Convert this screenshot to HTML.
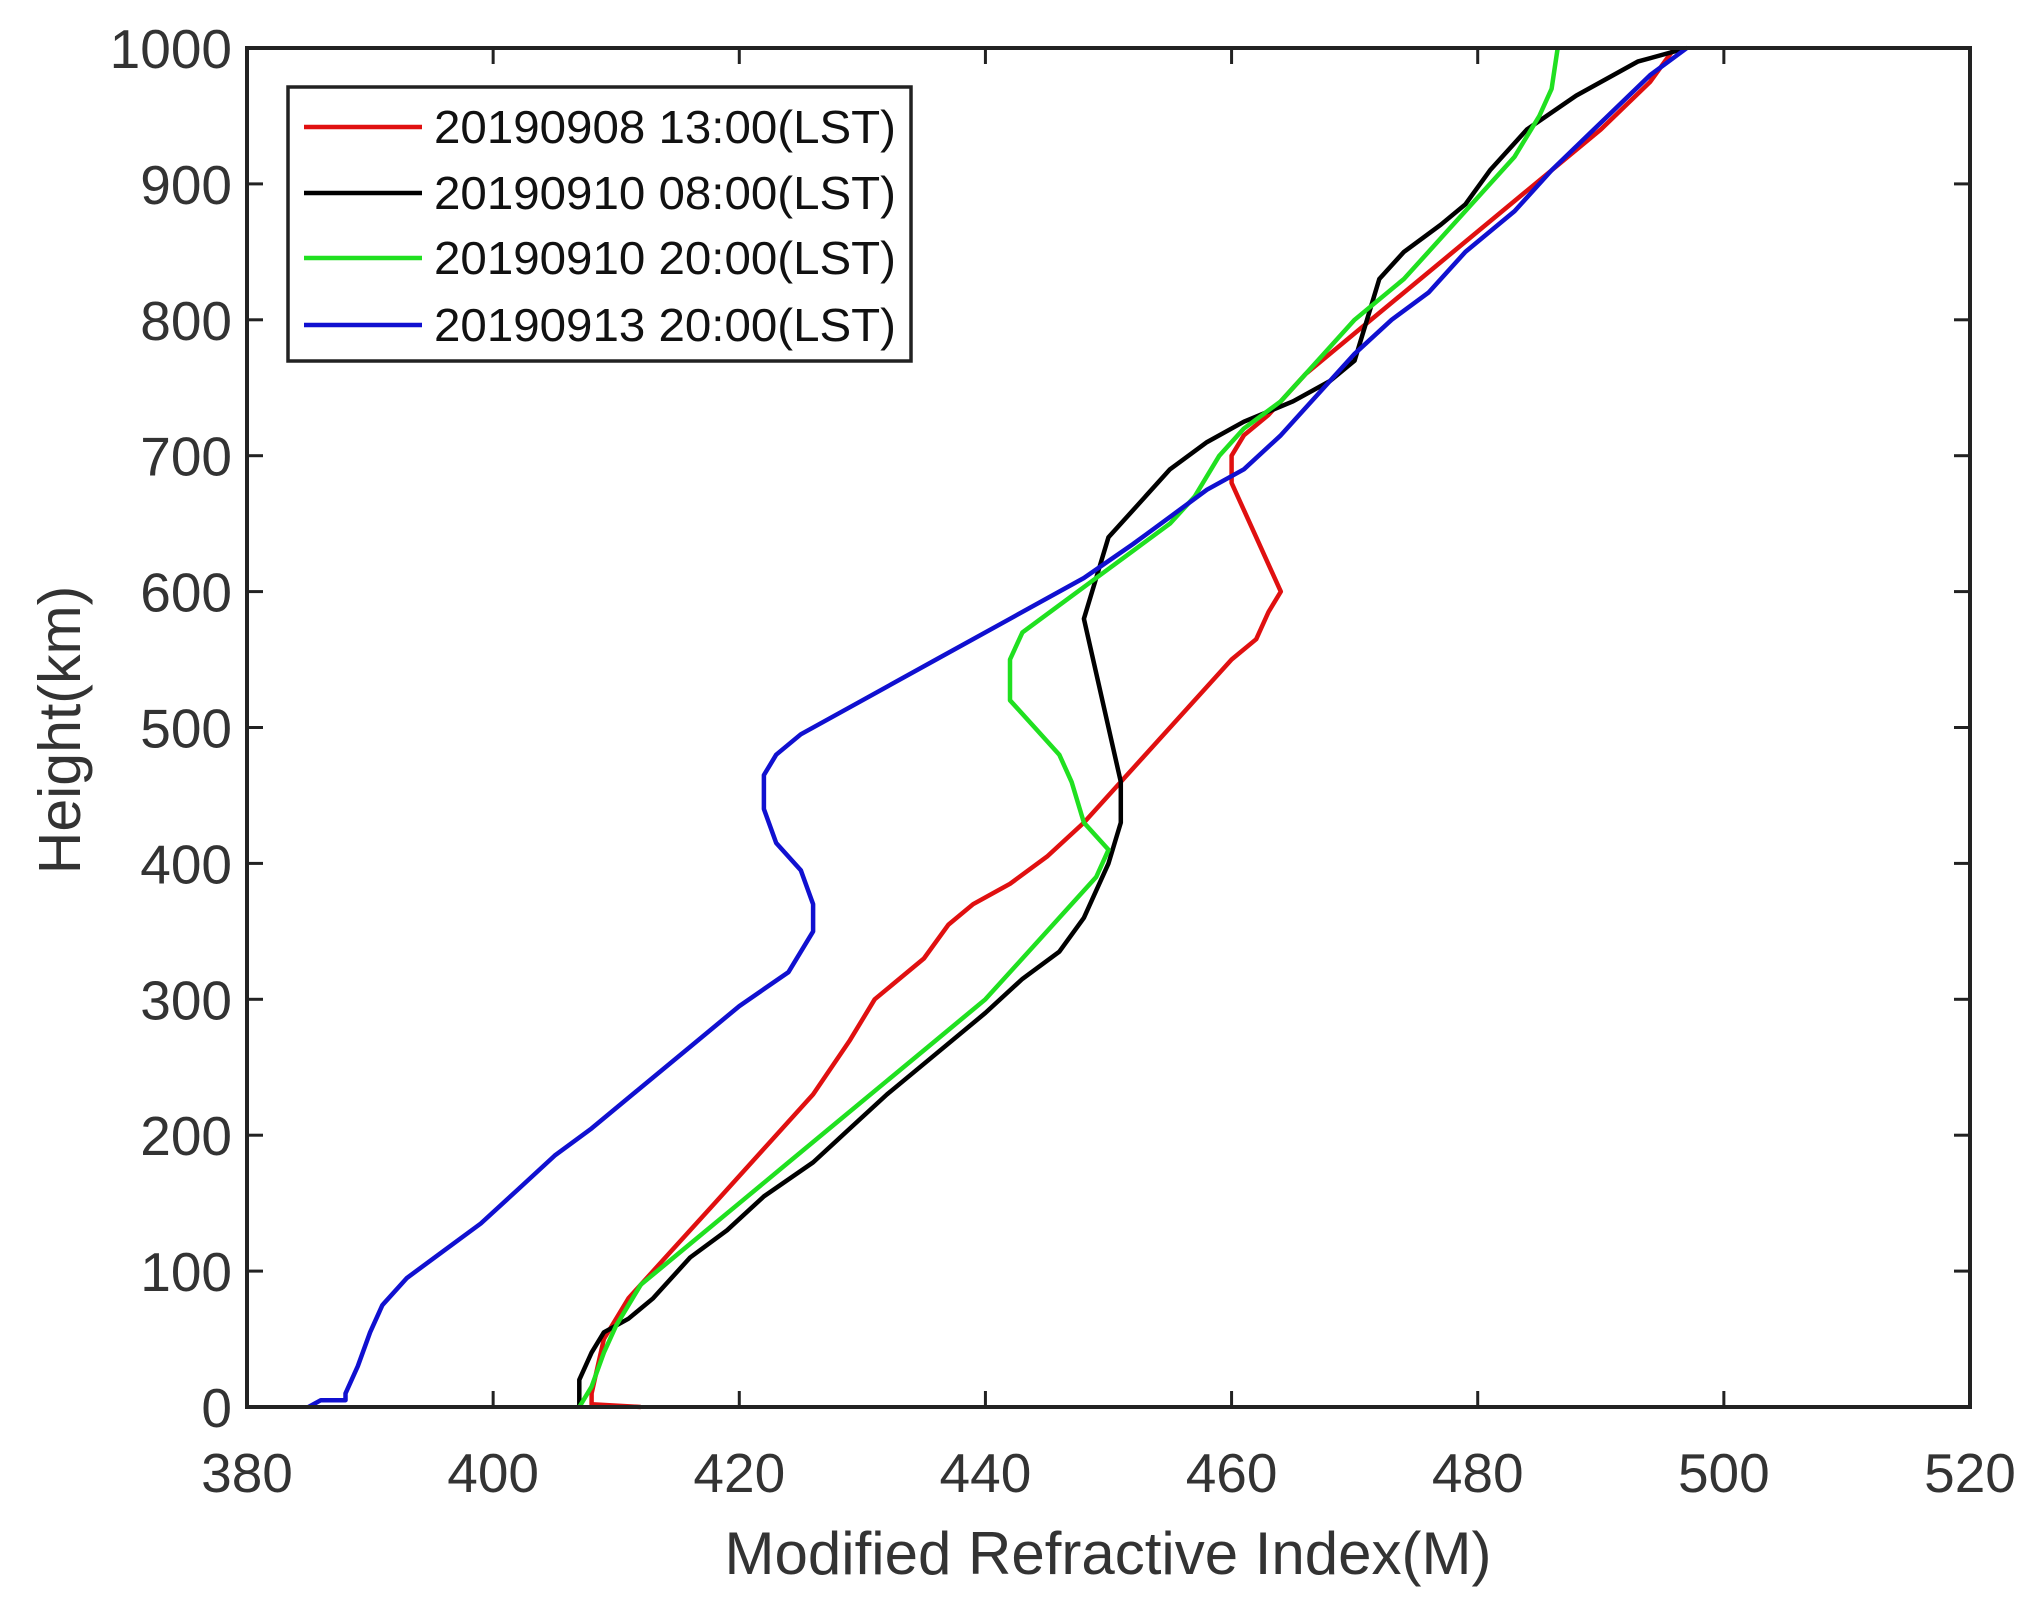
<!DOCTYPE html>
<html><head><meta charset="utf-8"><style>
html,body{margin:0;padding:0;background:#fff;}
svg{display:block;font-family:"Liberation Sans",sans-serif;}
</style></head><body>
<svg id="s" width="2033" height="1612" xmlns="http://www.w3.org/2000/svg">
<rect width="2033" height="1612" fill="#fff"/>
<g id="ticks" stroke="#222" stroke-width="3"></g>
<g id="lines" fill="none" stroke-width="4.5" stroke-linejoin="round"></g>
<rect x="247" y="48" width="1723" height="1359" fill="none" stroke="#222" stroke-width="4"/>
<g id="labels" font-size="55" fill="#333"></g>
<text x="1108" y="1574" font-size="60" fill="#333" text-anchor="middle">Modified Refractive Index(M)</text>
<text transform="translate(80,730) rotate(-90)" font-size="59" fill="#333" text-anchor="middle">Height(km)</text>
<rect x="288" y="87" width="623" height="274" fill="#fff" stroke="#222" stroke-width="3.5"/>
<g stroke-width="4.5">
<line x1="304" y1="127" x2="422" y2="127" stroke="#e01010"/>
<line x1="304" y1="193" x2="422" y2="193" stroke="#000"/>
<line x1="304" y1="258" x2="422" y2="258" stroke="#20e020"/>
<line x1="304" y1="325" x2="422" y2="325" stroke="#1010d0"/>
</g>
<g font-size="46" fill="#111">
<text x="434" y="143" textLength="462" lengthAdjust="spacingAndGlyphs">20190908 13:00(LST)</text>
<text x="434" y="209" textLength="462" lengthAdjust="spacingAndGlyphs">20190910 08:00(LST)</text>
<text x="434" y="274" textLength="462" lengthAdjust="spacingAndGlyphs">20190910 20:00(LST)</text>
<text x="434" y="341" textLength="462" lengthAdjust="spacingAndGlyphs">20190913 20:00(LST)</text>
</g>
</svg>
<script>
var L=247,R=1970,T=48,B=1407;
function X(m){return L+(m-380)/140*(R-L);}
function Y(h){return B-h/1000*(B-T);}
var ns="http://www.w3.org/2000/svg";
function el(p,n,a){var e=document.createElementNS(ns,n);for(var k in a)e.setAttribute(k,a[k]);document.getElementById(p).appendChild(e);return e;}
for(var m=380;m<=520;m+=20){var x=X(m);
 el("ticks","line",{x1:x,y1:B,x2:x,y2:B-16});el("ticks","line",{x1:x,y1:T,x2:x,y2:T+16});
 var t=el("labels","text",{x:x,y:1492,"text-anchor":"middle"});t.textContent=m;}
for(var h=0;h<=1000;h+=100){var y=Y(h);
 el("ticks","line",{x1:L,y1:y,x2:L+16,y2:y});el("ticks","line",{x1:R,y1:y,x2:R-16,y2:y});
 var t=el("labels","text",{x:232,y:y+20,"text-anchor":"end"});t.textContent=h;}
var D={
"#e01010":[[412,0],[408,2],[408,10],[409,50],[411,80],[414,110],[418,150],[422,190],[426,230],[429,270],[431,300],[435,330],[437,355],[439,370],[442,385],[445,405],[448,430],[451,460],[454,490],[457,520],[460,550],[462,565],[463,585],[464,600],[463,620],[462,640],[461,660],[460,680],[460,700],[461,715],[463,730],[466,760],[470,790],[474,820],[478,850],[482,880],[486,910],[490,940],[494,975],[496,1000]],
"#000":[[407,0],[407,20],[408,40],[409,55],[411,65],[413,80],[416,110],[419,130],[422,155],[426,180],[429,205],[432,230],[436,260],[440,290],[443,315],[446,335],[448,360],[449,380],[450,400],[451,430],[451,460],[450,500],[449,540],[448,580],[449,610],[450,640],[452,660],[455,690],[458,710],[461,725],[465,740],[468,755],[470,770],[471,800],[472,830],[474,850],[477,870],[479,885],[481,910],[484,940],[488,965],[493,990],[497,1000]],
"#20e020":[[407,0],[408,15],[409,40],[410,60],[412,90],[416,120],[420,150],[424,180],[428,210],[432,240],[436,270],[440,300],[443,330],[446,360],[449,390],[450,410],[448,430],[447,460],[446,480],[444,500],[442,520],[442,550],[443,570],[446,590],[449,610],[452,630],[455,650],[457,670],[459,700],[461,720],[464,740],[467,770],[470,800],[474,830],[477,860],[480,890],[483,920],[485,950],[486,970],[486.5,1000]],
"#1010d0":[[385,0],[386,5],[388,5],[388,10],[389,30],[390,55],[391,75],[393,95],[396,115],[399,135],[402,160],[405,185],[408,205],[412,235],[416,265],[420,295],[424,320],[426,350],[426,370],[425,395],[423,415],[422,440],[422,465],[423,480],[425,495],[430,520],[436,550],[442,580],[448,610],[452,635],[455,655],[458,675],[461,690],[464,715],[467,745],[470,775],[473,800],[476,820],[479,850],[483,880],[486,910],[490,945],[494,980],[497,1000]]};
for(var c in D){el("lines","polyline",{stroke:c,points:D[c].map(function(p){return X(p[0]).toFixed(1)+","+Y(p[1]).toFixed(1);}).join(" ")});}
</script>
</body></html>
